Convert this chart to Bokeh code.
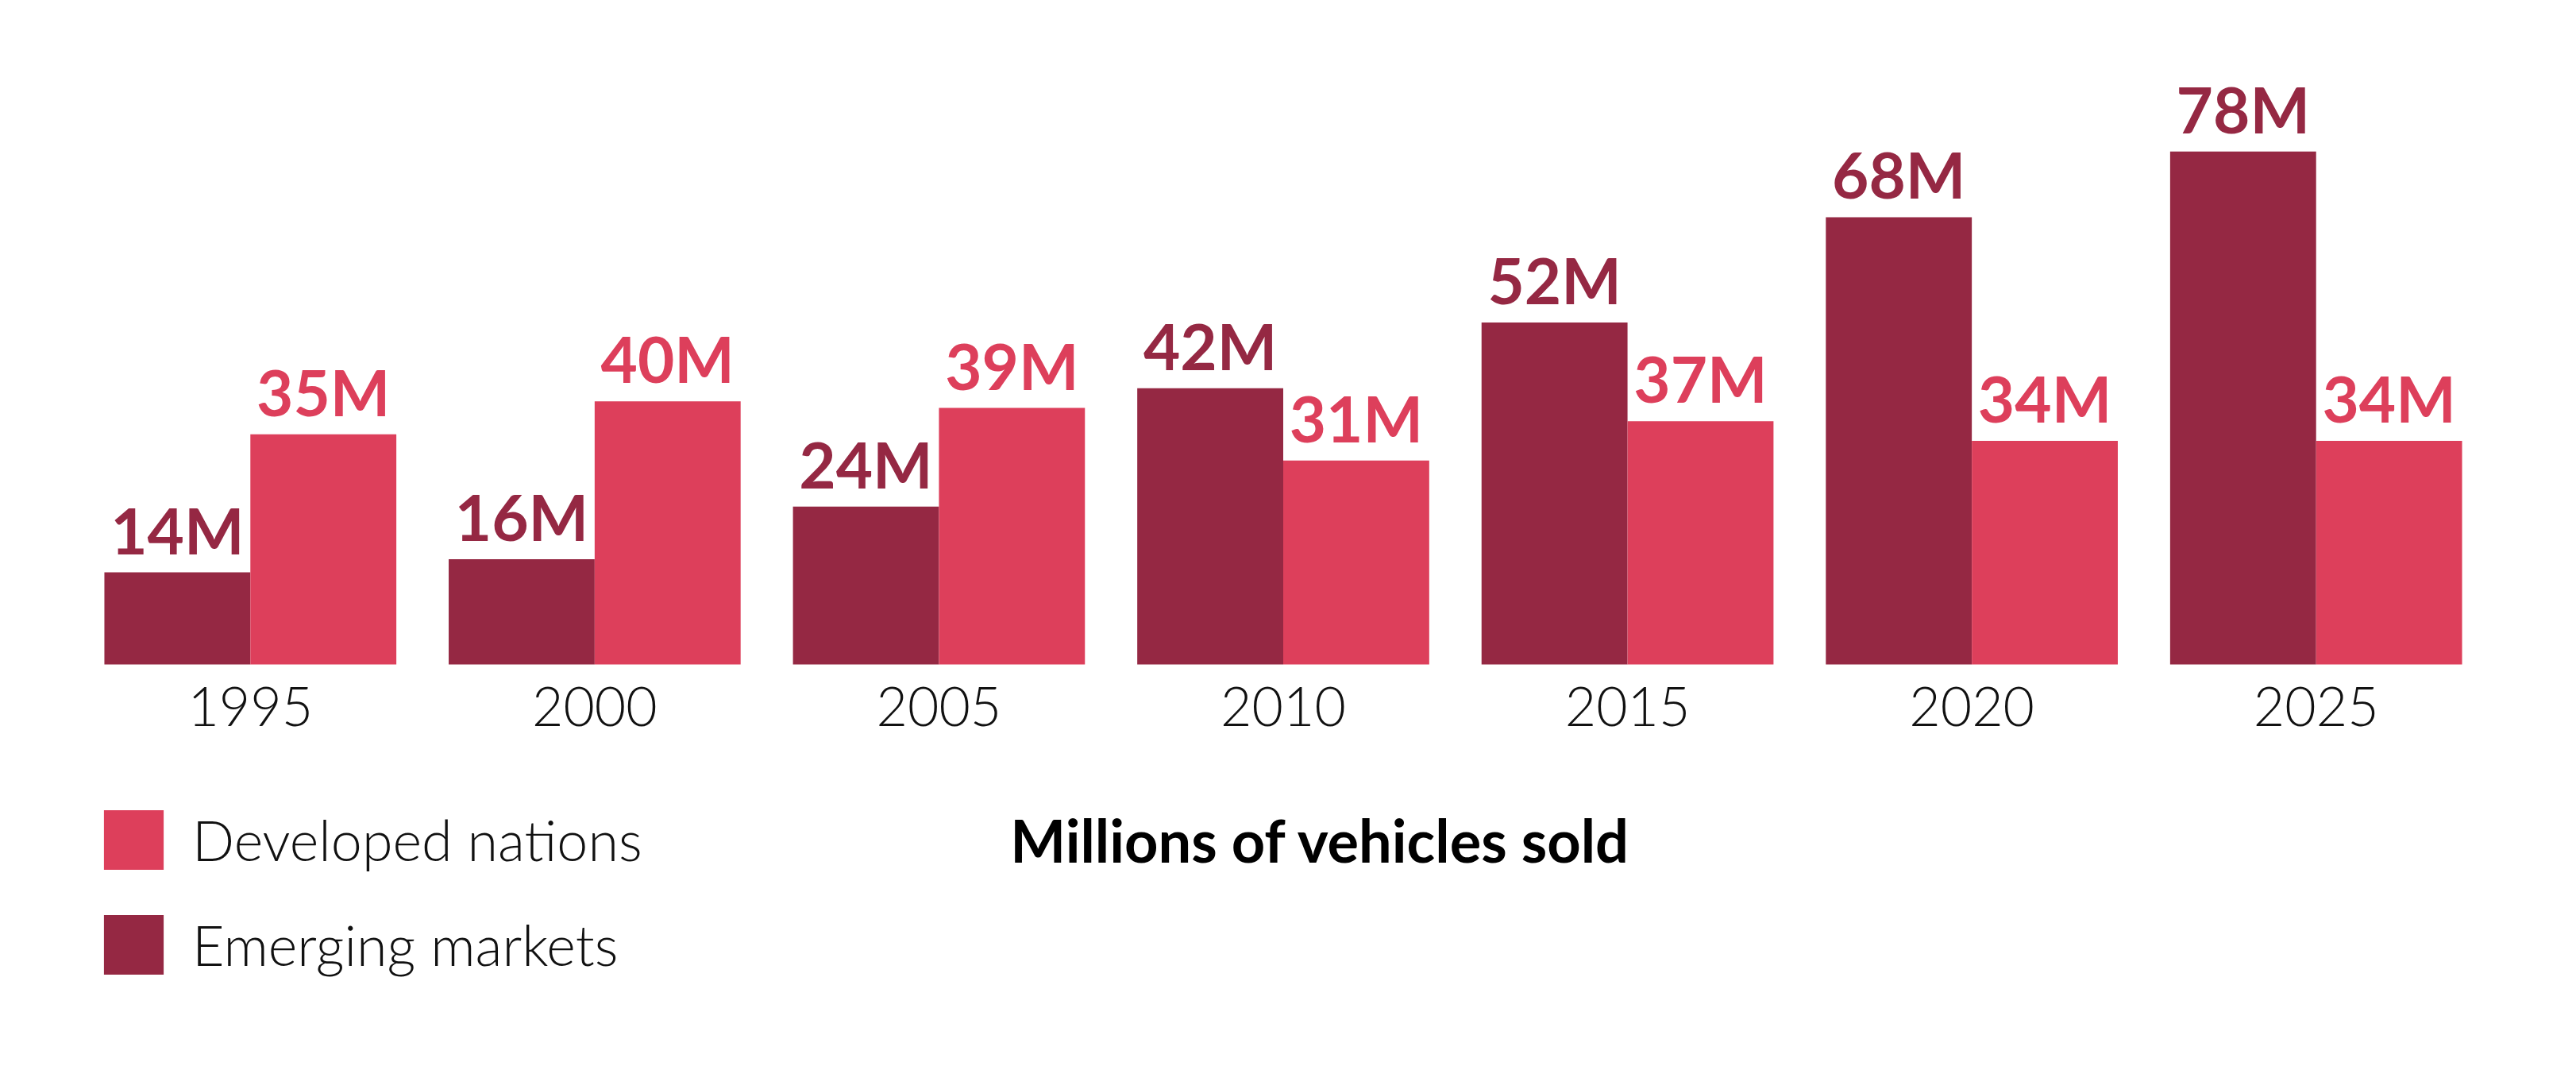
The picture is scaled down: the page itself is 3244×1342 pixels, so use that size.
from bokeh.plotting import figure
from bokeh.models import FactorRange, Range1d, ColumnDataSource, Legend, LegendItem, Label
from bokeh.transform import dodge
from bokeh.core.properties import value
from bokeh.embed import file_html
from bokeh.resources import INLINE

years = ["1995", "2000", "2005", "2010", "2015", "2020", "2025"]
emerging = [14, 16, 24, 42, 52, 68, 78]
developed = [35, 40, 39, 31, 37, 34, 34]
series_names = ["Developed nations", "Emerging markets"]
x_title = "Millions of vehicles sold"

DARK = "#952843"
PINK = "#DD3F5B"
LIGHT_FONT = "Lato Light"
BOLD_FONT = "Lato"

src = ColumnDataSource(dict(
    year=years,
    emerging=emerging,
    developed=developed,
    emerging_lbl=[f"{v}M" for v in emerging],
    developed_lbl=[f"{v}M" for v in developed],
))

p = figure(width=3236, height=1334, title=None,
           x_range=FactorRange(*years, range_padding=0),
           y_range=Range1d(-60.14, 100),
           output_backend="svg", toolbar_location=None,
           y_axis_location=None,
           min_border_left=98, min_border_right=103,
           min_border_top=8, min_border_bottom=0)
p.outline_line_color = None
p.xgrid.grid_line_color = None
p.ygrid.grid_line_color = None
p.background_fill_color = "white"
p.border_fill_color = "white"

xa = p.xaxis[0]
xa.fixed_location = 0
xa.axis_line_color = None
xa.major_tick_line_color = None
xa.minor_tick_line_color = None
xa.major_label_text_font = LIGHT_FONT
xa.major_label_text_font_size = "68px"
xa.major_label_text_color = "#111111"
xa.major_label_standoff = 22

off = 0.212
w = 0.424
r_em = p.vbar(x=dodge("year", -off, range=p.x_range), top="emerging", width=w,
              source=src, fill_color=DARK, line_color=None)
r_dev = p.vbar(x=dodge("year", off, range=p.x_range), top="developed", width=w,
               source=src, fill_color=PINK, line_color=None)

p.text(x=dodge("year", -off, range=p.x_range), y="emerging", text="emerging_lbl",
       source=src, text_align="center", text_baseline="bottom", y_offset=-6,
       text_font=value(BOLD_FONT), text_font_style="bold", text_font_size="80px",
       text_color=DARK)
p.text(x=dodge("year", off, range=p.x_range), y="developed", text="developed_lbl",
       source=src, text_align="center", text_baseline="bottom", y_offset=-6,
       text_font=value(BOLD_FONT), text_font_style="bold", text_font_size="80px",
       text_color=PINK)

legend = Legend(items=[LegendItem(label=series_names[0], renderers=[r_dev]),
                       LegendItem(label=series_names[1], renderers=[r_em])],
                location=(23, 98), orientation="vertical",
                glyph_width=94, glyph_height=94, spacing=38, label_standoff=27,
                label_height=94, padding=0, margin=0,
                border_line_color=None, background_fill_alpha=0,
                label_text_font=LIGHT_FONT, label_text_font_size="70px",
                label_text_color="#111111")
p.add_layout(legend, "center")

title = Label(x=3.609, y=-26.7, text=x_title, text_align="center",
              text_baseline="middle", text_font=BOLD_FONT, text_font_style="bold",
              text_font_size="74px", text_color="black")
p.add_layout(title)

open("out.html", "w").write(file_html(p, INLINE))
